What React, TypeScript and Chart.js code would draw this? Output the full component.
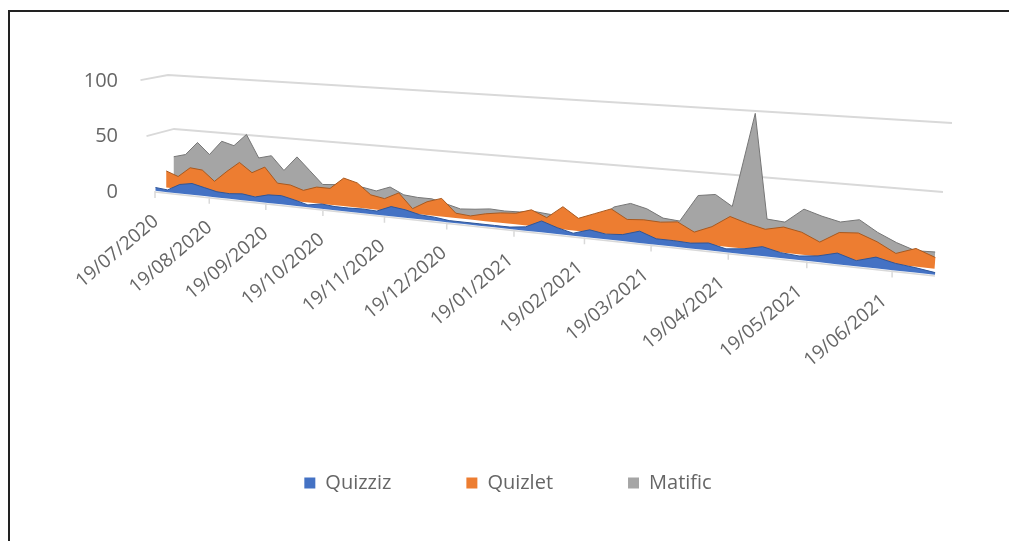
import React, { useEffect, useRef } from "react";
import { Chart, registerables, LineController, LinearScale } from "chart.js";

Chart.register(...registerables);

const categories = [
  "19/07/2020","26/07/2020","02/08/2020","09/08/2020","16/08/2020","23/08/2020","30/08/2020","06/09/2020","13/09/2020","20/09/2020",
  "27/09/2020","04/10/2020","11/10/2020","18/10/2020","25/10/2020","01/11/2020","08/11/2020","15/11/2020","22/11/2020","29/11/2020",
  "06/12/2020","13/12/2020","20/12/2020","27/12/2020","03/01/2021","10/01/2021","17/01/2021","24/01/2021","31/01/2021","07/02/2021",
  "14/02/2021","21/02/2021","28/02/2021","07/03/2021","14/03/2021","21/03/2021","28/03/2021","04/04/2021","11/04/2021","18/04/2021",
  "25/04/2021","02/05/2021","09/05/2021","16/05/2021","23/05/2021","30/05/2021","06/06/2021","13/06/2021","20/06/2021","27/06/2021","04/07/2021",
];
const tickLabels = [
  "19/07/2020","19/08/2020","19/09/2020","19/10/2020","19/11/2020","19/12/2020",
  "19/01/2021","19/02/2021","19/03/2021","19/04/2021","19/05/2021","19/06/2021",
];
const quizziz = [3,2,8,10,7.5,5,4.5,5.5,4,7,7.5,5,2,4,3,3,3.5,3,8,6.5,3.7,3,1.5,1.5,1.5,1.5,1.5,3,9,5,2,6,4,5,9,4.5,4.5,4,5.5,2.5,4,7,4,3,4.5,8,4,8,5,3.5,1.5];
const quizlet = [15,11,20,19,10,20,29,21,27,14,13.5,10,14,14,24,21,12,10,16,4,11,15,4,3,6,8,9,13,8,18,10,15,20,13,14,13.5,15,8.5,14,23,19,16,19,16.5,10.6,19,20,15,8,13,8];
const matific = [26,29,41,31,44,41,52,32,35,23,36,25,14,15,14,15,13,17.5,12,11,11,8,5,6,7.5,7,7.5,9,8,7,6,8,19,23,20,14,13,34,36,28,100,21,20,31,27,24,27,19,13,8.5,9];

const seriesNames = ["Quizziz", "Quizlet", "Matific"];
const fills = ["#4472c4", "#ed7d31", "#a5a5a5"];
const edges = ["#2f5597", "#a8591f", "#767676"];
const depths = [0.02, 0.45, 0.75];

const dayOf = (s: string) => {
  const [d, m, y] = s.split("/").map(Number);
  return Math.round((Date.UTC(y, m - 1, d) - Date.UTC(2020, 6, 19)) / 86400000);
};

const lerp = (a: number, b: number, t: number) => a + (b - a) * t;
const PERSPECTIVE = 1.3;

// Maps a point of the flat chart area onto the tilted floor/wall of the 3D view.
function project(px: number, py: number, area: any, depth: number, wall = false) {
  const u = (px - area.left) / (area.right - area.left);
  const v = (area.bottom - py) / (area.bottom - area.top);
  const f = u / (PERSPECTIVE - (PERSPECTIVE - 1) * u);
  const lx = lerp(155, 180, depth);
  const rx = lerp(935, 934, depth);
  const ly = lerp(191, 183, depth);
  const ry = lerp(275, 261, depth);
  const lean = wall ? lerp(-12, 18, f) : lerp(0, 10, f);
  return {
    x: lerp(lx, rx, f) + v * lean,
    y: lerp(ly, ry, f) - v * (108 + 30 * f) * (1 + 0.03 * (1 - depth)),
  };
}

class Area3DController extends LineController {
  static id = "area3d";
  draw() {
    const chart: any = this.chart;
    const ctx = chart.ctx;
    const ds: any = this.getDataset();
    const pts: any[] = this.getMeta().data as any[];
    const area = chart.chartArea;
    const yBase = chart.scales.y.getPixelForValue(0);
    const top = pts.map((p) => project(p.x, p.y, area, ds.depth));
    const floor = pts.map((p) => project(p.x, yBase, area, ds.depth));
    ctx.save();
    ctx.beginPath();
    top.forEach((p, i) => (i ? ctx.lineTo(p.x, p.y) : ctx.moveTo(p.x, p.y)));
    for (let i = floor.length - 1; i >= 0; i--) ctx.lineTo(floor[i].x, floor[i].y);
    ctx.closePath();
    ctx.fillStyle = ds.backgroundColor;
    ctx.fill();
    ctx.beginPath();
    top.forEach((p, i) => (i ? ctx.lineTo(p.x, p.y) : ctx.moveTo(p.x, p.y)));
    ctx.strokeStyle = ds.edgeColor;
    ctx.lineWidth = 1;
    ctx.lineJoin = "round";
    ctx.stroke();
    ctx.restore();
  }
}

class PerspectiveScale extends LinearScale {
  static id = "perspective";
  _computeLabelItems(chartArea: any) {
    const items: any[] = (LinearScale.prototype as any)._computeLabelItems.call(this, chartArea);
    const ticks: any[] = (this as any).ticks;
    const yBase = (this as any).chart.scales.y.getPixelForValue(0);
    items.forEach((item, i) => {
      const p = project(this.getPixelForValue(ticks[i].value), yBase, chartArea, 0);
      item.textOffset = 0;
      item.options.textAlign = "right";
      item.options.textBaseline = "middle";
      item.options.translation = [p.x + 1 - 0.012 * (p.x - 155), p.y + 28];
    });
    return items;
  }
}
Chart.register(Area3DController, PerspectiveScale);

const wallPlugin = {
  id: "wall3d",
  afterLayout(chart: any) {
    chart.legend.left += 33;
    chart.legend.right += 33;
  },
  beforeDatasetsDraw(chart: any) {
    const { ctx, chartArea: area, scales } = chart;
    const yBase = scales.y.getPixelForValue(0);
    ctx.save();
    ctx.strokeStyle = "#d9d9d9";
    ctx.lineWidth = 1.8;
    scales.y.ticks.forEach((t: any) => {
      if (t.value === 0) return;
      const py = scales.y.getPixelForValue(t.value);
      const a = project(area.left, py, area, -0.1, true);
      const b = project(area.left, py, area, 1, true);
      const c = project(area.right, py, area, 1, true);
      ctx.beginPath();
      ctx.moveTo(a.x, a.y);
      ctx.lineTo(b.x, b.y);
      ctx.lineTo(c.x, c.y);
      ctx.stroke();
    });
    const s = project(area.left, yBase, area, 0);
    const e = project(area.right, yBase, area, 0);
    ctx.lineWidth = 1.5;
    ctx.beginPath();
    ctx.moveTo(s.x, s.y + 1);
    ctx.lineTo(e.x, e.y + 1);
    scales.x.ticks.forEach((t: any) => {
      const p = project(scales.x.getPixelForValue(t.value), yBase, area, 0);
      ctx.moveTo(p.x, p.y);
      ctx.lineTo(p.x, p.y + 7);
    });
    ctx.stroke();
    ctx.restore();
  },
};

const FONT = "'Open Sans', sans-serif";
const TEXT = "#666666";

export default function App() {
  const ref = useRef<HTMLCanvasElement>(null);
  useEffect(() => {
    const series = [quizziz, quizlet, matific];
    const chart = new Chart(ref.current as any, {
      type: "area3d" as any,
      data: {
        datasets: series.map((vals, i) => ({
          label: seriesNames[i],
          data: vals.map((y, j) => ({ x: dayOf(categories[j]), y })),
          backgroundColor: fills[i],
          borderColor: fills[i],
          borderWidth: 0,
          edgeColor: edges[i],
          depth: depths[i],
          pointRadius: 0,
          clip: false,
        })) as any,
      },
      options: {
        animation: false,
        responsive: false,
        layout: { padding: { top: 81, right: 59, bottom: 38, left: 0 } },
        plugins: {
          tooltip: { enabled: false },
          legend: {
            position: "bottom",
            labels: {
              boxWidth: 11,
              boxHeight: 11,
              padding: 75,
              color: TEXT,
              font: { family: FONT, size: 20 },
            },
          },
        },
        scales: {
          x: {
            type: "perspective" as any,
            min: 0,
            max: 350,
            position: "bottom",
            grid: { display: false },
            border: { display: false },
            afterFit: (s: any) => { s.height = 206; },
            afterBuildTicks: (s: any) => { s.ticks = tickLabels.map((l) => ({ value: dayOf(l) })); },
            ticks: {
              autoSkip: false,
              minRotation: 40,
              maxRotation: 40,
              color: TEXT,
              font: { family: FONT, size: 19 },
              callback: (_v: any, i: number) => tickLabels[i],
            },
          },
          y: {
            min: 0,
            max: 100,
            grid: { display: false, drawTicks: false },
            border: { display: false },
            afterFit: (s: any) => { s.width = 120; },
            ticks: {
              stepSize: 50,
              padding: 2,
              color: TEXT,
              font: { family: FONT, size: 20 },
            },
          },
        },
      },
      plugins: [wallPlugin],
    });
    return () => chart.destroy();
  }, []);
  return (
    <>
      <div style={{ position: "fixed", left: 8, top: 10, right: 0, bottom: 0, borderLeft: "2px solid #222", borderTop: "2px solid #222", background: "#fff" }} />
      <canvas ref={ref} width={1009} height={541} style={{ position: "fixed", left: 0, top: 0, width: 1009, height: 541 }} />
    </>
  );
}
